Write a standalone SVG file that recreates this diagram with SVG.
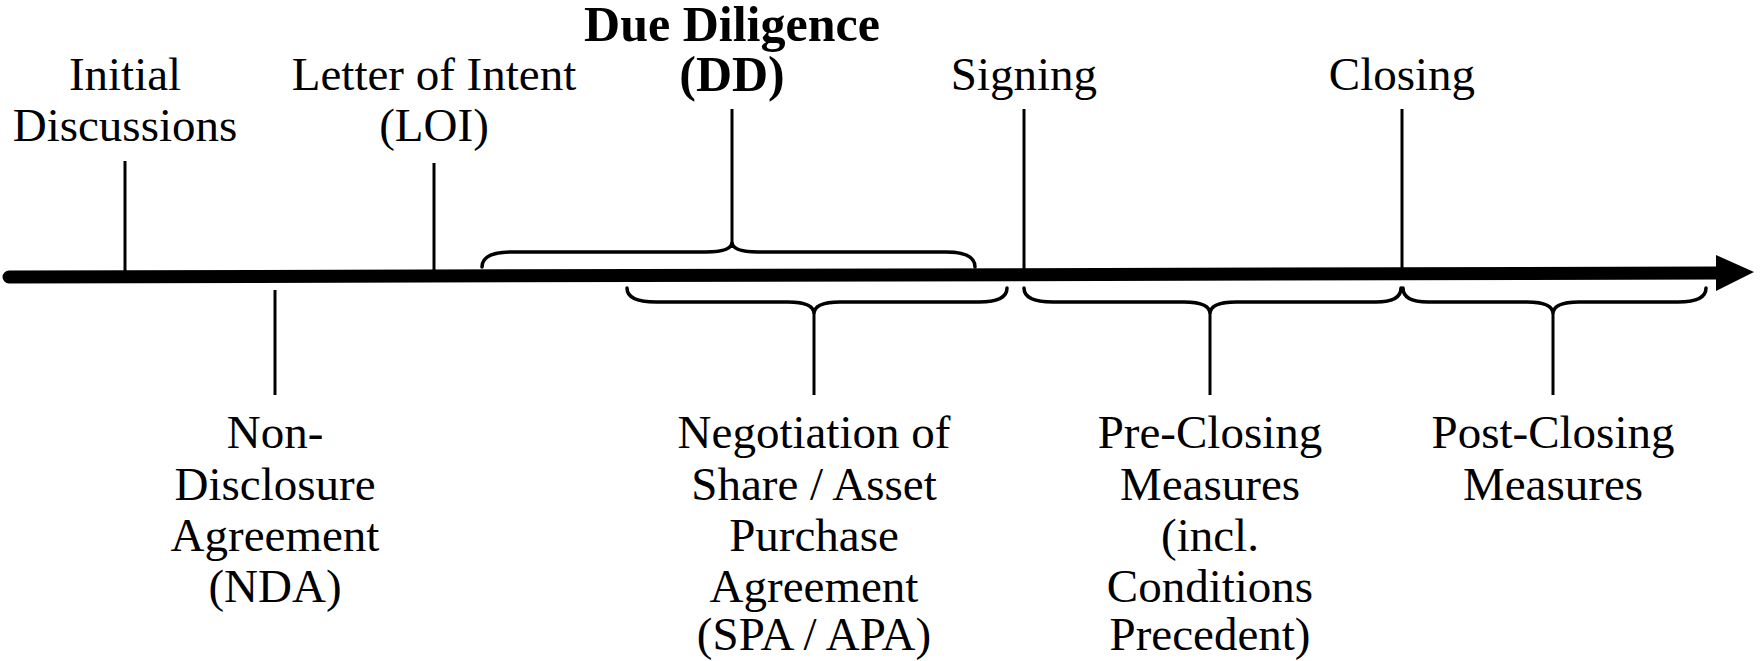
<svg xmlns="http://www.w3.org/2000/svg" width="1761" height="661" viewBox="0 0 1761 661">
<style>
text{font-family:"Liberation Serif","Times New Roman",serif;font-size:47px;fill:#000;text-anchor:middle}
.b{font-weight:bold;font-size:50px}
.tick{stroke:#000;stroke-width:3;fill:none}
.brace{stroke:#000;stroke-width:3.5;fill:none;stroke-linecap:round}
</style>
<rect width="1761" height="661" fill="#fff"/>
<g id="connectors">
<path d="M9,277 L1720,273" stroke="#000" stroke-width="13" stroke-linecap="round" fill="none"/>
<polygon points="1716,255 1754,272 1716,291" fill="#000"/>
<line class="tick" x1="125" y1="161" x2="125" y2="271"/>
<line class="tick" x1="434" y1="163" x2="434" y2="270"/>
<line class="tick" x1="1024" y1="109" x2="1024" y2="269"/>
<line class="tick" x1="1402" y1="109" x2="1402" y2="268"/>
<line class="tick" x1="275" y1="290" x2="275" y2="395"/>
<line class="tick" x1="732" y1="109" x2="732" y2="242"/>
<line class="tick" x1="814" y1="314" x2="814" y2="395"/>
<line class="tick" x1="1210" y1="314" x2="1210" y2="395"/>
<line class="tick" x1="1553" y1="314" x2="1553" y2="395"/>
<path class="brace" d="M482,267 C482,256 494,252 512,252 L706,252 C722,252 732,249 732,242 C732,249 742,252 758,252 L946,252 C964,252 975,256 975,267"/>
<path class="brace" d="M627,288 C627,298 638,302 656,302 L788,302 C804,302 814,306 814,314 C814,306 824,302 840,302 L979,302 C996,302 1007,298 1007,288"/>
<path class="brace" d="M1024,288 C1024,298 1035,302 1053,302 L1184,302 C1200,302 1210,306 1210,314 C1210,306 1220,302 1236,302 L1376,302 C1392,302 1401,298 1401,288"/>
<path class="brace" d="M1403,288 C1403,298 1412,302 1428,302 L1527,302 C1543,302 1553,306 1553,314 C1553,306 1563,302 1579,302 L1678,302 C1696,302 1706,298 1706,288"/>
</g>
<g id="initial"><text x="125" y="90">Initial</text><text x="125" y="141">Discussions</text></g>
<g id="loi"><text x="434" y="90">Letter of Intent</text><text x="434" y="141">(LOI)</text></g>
<g id="dd"><text class="b" x="732" y="41">Due Diligence</text><text class="b" x="732" y="91">(DD)</text></g>
<g id="signing"><text x="1024" y="90">Signing</text></g>
<g id="closing"><text x="1402" y="90">Closing</text></g>
<g id="nda"><text x="275" y="448">Non-</text><text x="275" y="499.5">Disclosure</text><text x="275" y="551">Agreement</text><text x="275" y="602">(NDA)</text></g>
<g id="spa"><text x="814" y="448">Negotiation of</text><text x="814" y="499.5">Share / Asset</text><text x="814" y="551">Purchase</text><text x="814" y="602">Agreement</text><text x="814" y="650">(SPA / APA)</text></g>
<g id="preclosing"><text x="1210" y="448">Pre-Closing</text><text x="1210" y="499.5">Measures</text><text x="1210" y="551">(incl.</text><text x="1210" y="602">Conditions</text><text x="1210" y="650">Precedent)</text></g>
<g id="postclosing"><text x="1553" y="448">Post-Closing</text><text x="1553" y="499.5">Measures</text></g>
</svg>
